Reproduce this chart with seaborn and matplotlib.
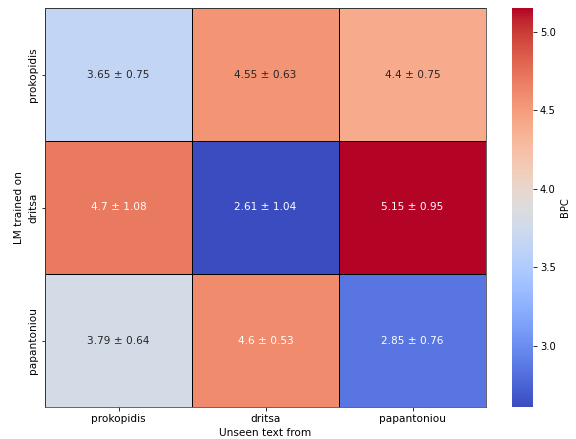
import numpy as np
import pandas as pd
import matplotlib
matplotlib.use("Agg")
import matplotlib.pyplot as plt
import seaborn as sns

# BPC of each LM (rows) on unseen text (columns)
authors = ["prokopidis", "dritsa", "papantoniou"]
bpc_mean = [[3.65, 4.55, 4.4],
            [4.7, 2.61, 5.15],
            [3.79, 4.6, 2.85]]
bpc_std = [[0.75, 0.63, 0.75],
           [1.08, 1.04, 0.95],
           [0.64, 0.53, 0.76]]

mean_df = pd.DataFrame(bpc_mean, index=authors, columns=authors)
labels = np.array([[f"{m} ± {s}" for m, s in zip(mr, sr)]
                   for mr, sr in zip(bpc_mean, bpc_std)])

plt.rcParams["font.size"] = 10.5
W, H = 576, 439
fig = plt.figure(figsize=(W / 72, H / 72), dpi=72)
ax = fig.add_axes([45 / W, 1 - 407 / H, 441 / W, 399 / H])
cax = fig.add_axes([512 / W, 1 - 407 / H, 21 / W, 399 / H])
sns.heatmap(mean_df, annot=labels, fmt="", cmap="coolwarm",
            linewidths=1, linecolor="black",
            cbar_ax=cax, cbar_kws={"label": "BPC"}, ax=ax)
cax.yaxis.label.set_size(10)
cax.tick_params(labelsize=10)
ax.set_xlabel("Unseen text from")
ax.set_ylabel("LM trained on")
for s in ax.spines.values():
    s.set_visible(True)
    s.set_color("#444444")
plt.savefig("out.png")
